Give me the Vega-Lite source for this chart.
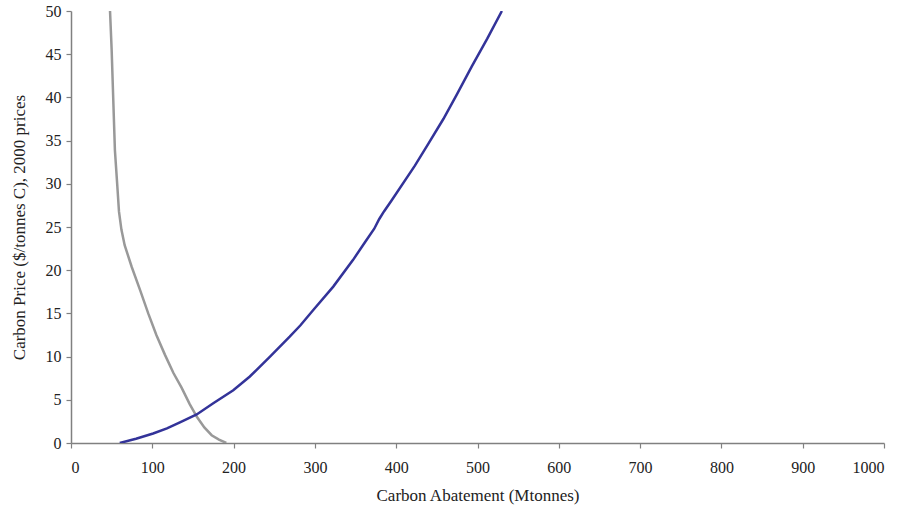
{
  "$schema": "https://vega.github.io/schema/vega-lite/v6.json",
  "width": 813,
  "height": 432,
  "autosize": "none",
  "padding": {"left": 71, "top": 11, "right": 18, "bottom": 69},
  "background": "white",
  "config": {
    "view": {"stroke": null},
    "font": "Liberation Serif",
    "axis": {"grid": false, "domainColor": "#808080", "tickColor": "#808080", "labelColor": "#222222", "titleColor": "#222222", "labelFont": "Liberation Serif", "titleFont": "Liberation Serif", "labelFontSize": 16, "titleFontSize": 17, "titleFontWeight": "normal", "tickSize": 5, "domainWidth": 1.5, "tickWidth": 1.2}
  },
  "data": {"values": [
    {"s": "demand", "i": 1, "x": 48, "y": 50},
    {"s": "demand", "i": 2, "x": 50, "y": 45.5},
    {"s": "demand", "i": 3, "x": 52, "y": 39.7},
    {"s": "demand", "i": 4, "x": 54, "y": 33.9},
    {"s": "demand", "i": 5, "x": 57, "y": 29.7},
    {"s": "demand", "i": 6, "x": 59, "y": 26.8},
    {"s": "demand", "i": 7, "x": 62, "y": 24.7},
    {"s": "demand", "i": 8, "x": 66, "y": 22.9},
    {"s": "demand", "i": 9, "x": 74.6, "y": 20.4},
    {"s": "demand", "i": 10, "x": 85, "y": 17.7},
    {"s": "demand", "i": 11, "x": 95, "y": 15},
    {"s": "demand", "i": 12, "x": 105, "y": 12.5},
    {"s": "demand", "i": 13, "x": 115.6, "y": 10.2},
    {"s": "demand", "i": 14, "x": 126, "y": 8.1},
    {"s": "demand", "i": 15, "x": 136, "y": 6.4},
    {"s": "demand", "i": 16, "x": 146, "y": 4.5},
    {"s": "demand", "i": 17, "x": 155, "y": 3},
    {"s": "demand", "i": 18, "x": 164, "y": 1.8},
    {"s": "demand", "i": 19, "x": 173, "y": 0.9},
    {"s": "demand", "i": 20, "x": 182, "y": 0.4},
    {"s": "demand", "i": 21, "x": 191, "y": 0},
    {"s": "supply", "i": 1, "x": 60, "y": 0},
    {"s": "supply", "i": 2, "x": 80, "y": 0.5},
    {"s": "supply", "i": 3, "x": 101, "y": 1.1},
    {"s": "supply", "i": 4, "x": 118, "y": 1.7},
    {"s": "supply", "i": 5, "x": 134, "y": 2.4},
    {"s": "supply", "i": 6, "x": 154.6, "y": 3.3},
    {"s": "supply", "i": 7, "x": 175, "y": 4.6},
    {"s": "supply", "i": 8, "x": 199.6, "y": 6.1},
    {"s": "supply", "i": 9, "x": 220, "y": 7.7},
    {"s": "supply", "i": 10, "x": 244.8, "y": 10},
    {"s": "supply", "i": 11, "x": 269, "y": 12.3},
    {"s": "supply", "i": 12, "x": 282, "y": 13.6},
    {"s": "supply", "i": 13, "x": 298, "y": 15.4},
    {"s": "supply", "i": 14, "x": 322.6, "y": 18.1},
    {"s": "supply", "i": 15, "x": 347, "y": 21.2},
    {"s": "supply", "i": 16, "x": 362, "y": 23.3},
    {"s": "supply", "i": 17, "x": 373, "y": 24.8},
    {"s": "supply", "i": 18, "x": 379, "y": 25.9},
    {"s": "supply", "i": 19, "x": 385, "y": 26.8},
    {"s": "supply", "i": 20, "x": 394.5, "y": 28.1},
    {"s": "supply", "i": 21, "x": 423, "y": 32.1},
    {"s": "supply", "i": 22, "x": 440, "y": 34.7},
    {"s": "supply", "i": 23, "x": 458, "y": 37.5},
    {"s": "supply", "i": 24, "x": 475, "y": 40.4},
    {"s": "supply", "i": 25, "x": 493, "y": 43.6},
    {"s": "supply", "i": 26, "x": 512, "y": 46.8},
    {"s": "supply", "i": 27, "x": 530, "y": 50}
  ]},
  "mark": {"type": "line", "strokeWidth": 2.5, "clip": true},
  "encoding": {
    "x": {"field": "x", "type": "quantitative", "scale": {"domain": [0, 1000], "nice": false}, "axis": {"values": [0,100,200,300,400,500,600,700,800,900,1000], "format": "d", "title": "Carbon Abatement (Mtonnes)", "labelPadding": 11, "titlePadding": 12}},
    "y": {"field": "y", "type": "quantitative", "scale": {"domain": [0, 50], "nice": false}, "axis": {"values": [0,5,10,15,20,25,30,35,40,45,50], "title": "Carbon Price ($/tonnes C), 2000 prices", "labelPadding": 5, "titlePadding": 17}},
    "color": {"field": "s", "type": "nominal", "scale": {"domain": ["demand", "supply"], "range": ["#999999", "#333399"]}, "legend": null},
    "order": {"field": "i", "type": "quantitative"}
  }
}
